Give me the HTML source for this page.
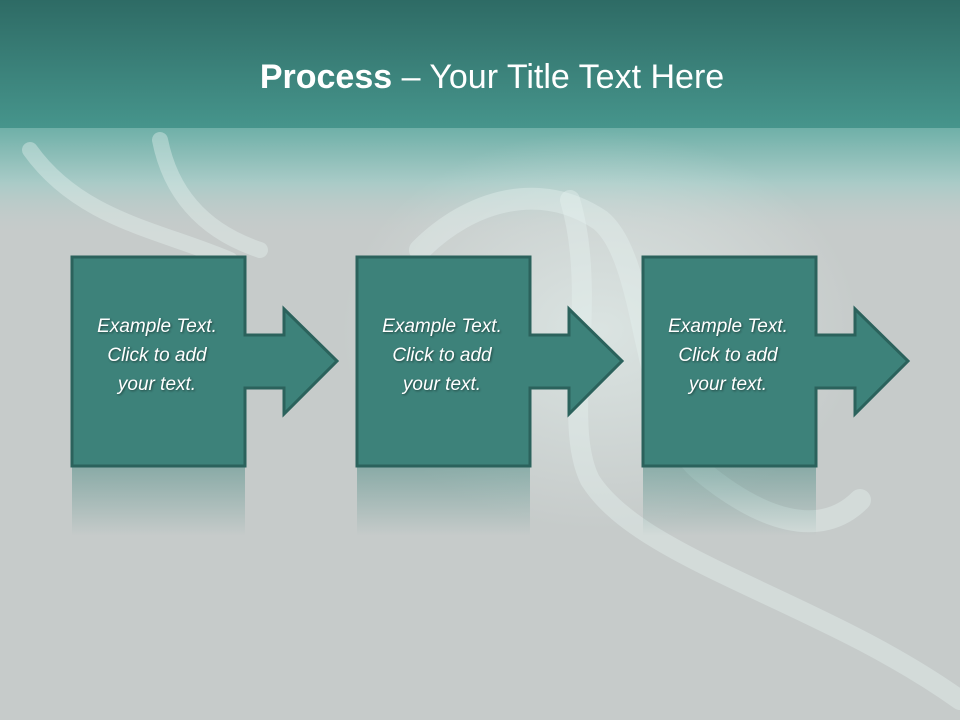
<!DOCTYPE html>
<html><head><meta charset="utf-8"><style>
html,body{margin:0;padding:0;}
body{width:960px;height:720px;overflow:hidden;position:relative;background:#c6cbca;font-family:"Liberation Sans",sans-serif;}
svg{position:absolute;left:0;top:0;}
</style></head><body>
<svg width="960" height="720" viewBox="0 0 960 720">
<defs>
<linearGradient id="top" x1="0" y1="0" x2="0" y2="1">
<stop offset="0" stop-color="#2e6b65"/><stop offset="1" stop-color="#46958c"/>
</linearGradient>
<linearGradient id="fade" x1="0" y1="0" x2="0" y2="1">
<stop offset="0" stop-color="#6fb0a8"/><stop offset="0.5" stop-color="#a9cbc7"/><stop offset="1" stop-color="#c6cbca" stop-opacity="0"/>
</linearGradient>
<linearGradient id="refl" x1="0" y1="0" x2="0" y2="1">
<stop offset="0" stop-color="#3d827a" stop-opacity="0.45"/><stop offset="1" stop-color="#3d827a" stop-opacity="0"/>
</linearGradient>
<radialGradient id="glow" cx="0.5" cy="0.5" r="0.5">
<stop offset="0" stop-color="#e8f4f1" stop-opacity="0.6"/><stop offset="1" stop-color="#e8f4f1" stop-opacity="0"/>
</radialGradient>
</defs>
<rect width="960" height="720" fill="#c6cbca"/>
<rect y="128" width="960" height="110" fill="url(#fade)"/>
<ellipse cx="600" cy="330" rx="260" ry="200" fill="url(#glow)"/>
<g fill="none" stroke="#e6f2ef" stroke-opacity="0.4" stroke-width="22" stroke-linecap="round">
<path d="M420 250 C470 200 540 180 600 220 C650 260 640 420 700 470 C760 520 820 540 860 500"/>
<path d="M570 200 C600 300 560 420 590 480 C640 560 820 600 960 700" stroke-width="20"/>
<path d="M30 150 C80 220 160 230 230 260" stroke-width="16"/>
<path d="M160 140 C170 190 200 230 260 250" stroke-width="16"/>
</g>
<rect width="960" height="128" fill="url(#top)"/>
<text x="492" y="88" text-anchor="middle" fill="#fff" font-size="34"><tspan font-weight="bold">Process</tspan> – Your Title Text Here</text>
<g id="s">
<rect x="72" y="466" width="173" height="70" fill="url(#refl)"/>
<path d="M72 257 H245 V335 H284 V309 L337 361 L284 414 V388 H245 V466 H72 Z" fill="#3d827a" stroke="#2b625c" stroke-width="3" stroke-linejoin="miter"/>
<g fill="#fff" font-style="italic" font-size="19" text-anchor="middle" style="filter:drop-shadow(1px 1px 1px rgba(0,0,0,0.45))">
<text x="157" y="332">Example Text.</text>
<text x="157" y="361">Click  to add</text>
<text x="157" y="390">your text.</text>
</g>
</g>
<use href="#s" x="285"/>
<use href="#s" x="571"/>
</svg>
</body></html>
